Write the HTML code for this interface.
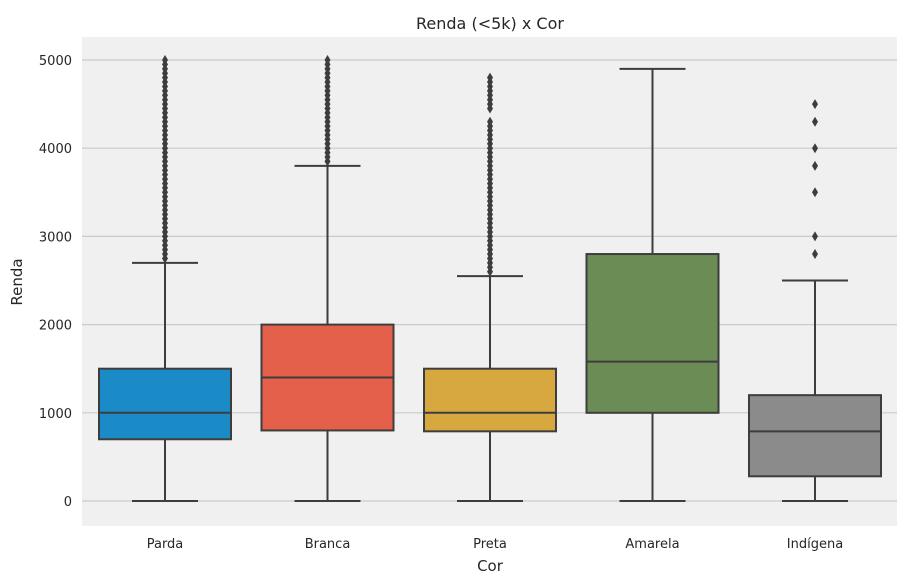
<!DOCTYPE html>
<html><head><meta charset="utf-8"><style>
body{margin:0;background:#fff;font-family:"DejaVu Sans","Liberation Sans",sans-serif;}
svg text{fill:#262626;}
</style></head><body>
<svg id="chart" width="919" height="584" xmlns="http://www.w3.org/2000/svg">
<rect x="82" y="37" width="815" height="489" fill="#f0f0f0"/>
<g id="grid"></g><g id="boxes"></g><g id="ticks"></g>
<text x="490" y="29" text-anchor="middle" font-size="16">Renda (&lt;5k) x Cor</text>
<text x="490" y="571" text-anchor="middle" font-size="15">Cor</text>
<text transform="translate(22,282) rotate(-90)" text-anchor="middle" font-size="15">Renda</text>
</svg>
<script>
const categories=["Parda","Branca","Preta","Amarela","Indígena"];
const colors=["#1a8bc6","#e5604a","#d8a840","#6c8c55","#8b8b8b"];
const q1=[700,800,790,1000,280];
const medians=[1000,1400,1000,1580,790];
const q3=[1500,2000,1500,2800,1200];
const whiskLow=[0,0,0,0,0];
const whiskHigh=[2700,3800,2550,4900,2500];
const outParda=[2750,2800,2850,2900,2950,3000,3050,3100,3150,3200,3250,3300,3350,3400,3450,3500,3550,3600,3650,3700,3750,3800,3850,3900,3950,4000,4050,4100,4150,4200,4250,4300,4350,4400,4450,4500,4550,4600,4650,4700,4750,4800,4850,4900,4950,5000];
const outBranca=[3850,3900,3950,4000,4050,4100,4150,4200,4250,4300,4350,4400,4450,4500,4550,4600,4650,4700,4750,4800,4850,4900,4950,5000];
const outPreta=[2600,2650,2700,2750,2800,2850,2900,2950,3000,3050,3100,3150,3200,3250,3300,3350,3400,3450,3500,3550,3600,3650,3700,3750,3800,3850,3900,3950,4000,4050,4100,4150,4200,4250,4300,4450,4500,4550,4600,4650,4700,4750,4800];
const outAmarela=[];
const outIndigena=[2800,3000,3500,3800,4000,4300,4500];
const outliers=[outParda,outBranca,outPreta,outAmarela,outIndigena];
const yTicks=[0,1000,2000,3000,4000,5000];
const NS="http://www.w3.org/2000/svg";
const y=v=>501-v*0.0882;
const x=i=>165+i*162.5;
function mk(tag,attrs,parent){const e=document.createElementNS(NS,tag);for(const k in attrs)e.setAttribute(k,attrs[k]);document.getElementById(parent).appendChild(e);return e;}
yTicks.forEach(t=>{
 const l=mk('line',{x1:82,x2:897,y1:y(t),y2:y(t),stroke:'#cbcbcb','stroke-width':1.2},'grid');
 
 
 const tx=mk('text',{x:72,y:y(t)+5,'text-anchor':'end','font-size':13},'ticks');
 tx.textContent=t;
 
 
});
categories.forEach((c,i)=>{
 const cx=x(i),w=132,s='#3d3d3d';
 const g=mk('g',{},'boxes');
 
 
 const gid='b'+i;g.id=gid;
 mk('line',{x1:cx,x2:cx,y1:y(whiskLow[i]),y2:y(q1[i]),stroke:s,'stroke-width':2},gid);
 mk('line',{x1:cx,x2:cx,y1:y(q3[i]),y2:y(whiskHigh[i]),stroke:s,'stroke-width':2},gid);
 mk('line',{x1:cx-33,x2:cx+33,y1:y(whiskLow[i]),y2:y(whiskLow[i]),stroke:s,'stroke-width':2},gid);
 mk('line',{x1:cx-33,x2:cx+33,y1:y(whiskHigh[i]),y2:y(whiskHigh[i]),stroke:s,'stroke-width':2},gid);
 mk('rect',{x:cx-w/2,y:y(q3[i]),width:w,height:y(q1[i])-y(q3[i]),fill:colors[i],stroke:s,'stroke-width':2},gid);
 mk('line',{x1:cx-w/2,x2:cx+w/2,y1:y(medians[i]),y2:y(medians[i]),stroke:s,'stroke-width':2},gid);
 outliers[i].forEach(v=>{
  const d=mk('path',{d:`M${cx},${y(v)-5} L${cx+3},${y(v)} L${cx},${y(v)+5} L${cx-3},${y(v)} Z`,fill:s},gid);
  
  
 });
 const tx=mk('text',{x:cx,y:548,'text-anchor':'middle','font-size':13},'ticks');
 tx.textContent=c;
 
 
});
</script>
</body></html>
